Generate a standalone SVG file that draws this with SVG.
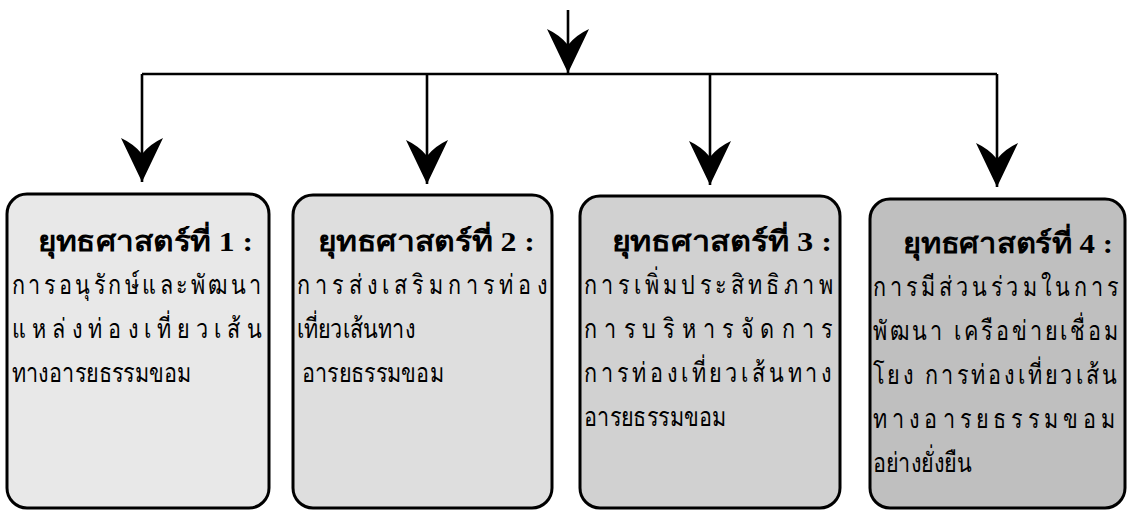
<svg xmlns="http://www.w3.org/2000/svg" width="1128" height="510" viewBox="0 0 1128 510">
<style>
.box{stroke:#000;stroke-width:3}
.conn{fill:none;stroke:#000;stroke-width:2.6}
.title{font-family:"Liberation Serif","DejaVu Serif",serif;font-size:28px;font-weight:bold;fill:#000}
.body{font-family:"Liberation Sans","DejaVu Sans",sans-serif;font-size:27px;fill:#000}
</style>
<defs>
<marker id="arr" markerUnits="userSpaceOnUse" markerWidth="48" markerHeight="48" viewBox="-46 -24 48 48" refX="0" refY="0" orient="auto">
<path d="M0,0 L-44,-21 Q-38,-8 -28,0 Q-38,8 -44,21 Z" fill="#000"/>
</marker>
</defs>
<rect width="1128" height="510" fill="#fff"/>
<g id="connectors">
<path class="conn" d="M568,10 V73" marker-end="url(#arr)"/>
<path class="conn" d="M142,74 H997"/>
<path class="conn" d="M142,74 V182" marker-end="url(#arr)"/>
<path class="conn" d="M427,74 V184" marker-end="url(#arr)"/>
<path class="conn" d="M710,74 V185" marker-end="url(#arr)"/>
<path class="conn" d="M997,74 V187" marker-end="url(#arr)"/>
</g>
<g id="node1">
<rect class="box" x="7" y="194" width="262" height="314" rx="20" fill="#e8e8e8"/>
<text class="title" x="38" y="251" textLength="215" lengthAdjust="spacingAndGlyphs">ยุทธศาสตร์ที่ 1 :</text>
<g transform="scale(0.8,1)">
<text class="body" x="15" y="294" textLength="312" lengthAdjust="spacing">การอนุรักษ์และพัฒนา</text>
<text class="body" x="15" y="338" textLength="312" lengthAdjust="spacing">แหล่งท่องเที่ยวเส้น</text>
<text class="body" x="15" y="382">ทางอารยธรรมขอม</text>
</g>
</g>
<g id="node2">
<rect class="box" x="293" y="195" width="259" height="313" rx="20" fill="#dedede"/>
<text class="title" x="318" y="251" textLength="217" lengthAdjust="spacingAndGlyphs">ยุทธศาสตร์ที่ 2 :</text>
<g transform="scale(0.8,1)">
<text class="body" x="371" y="294" textLength="313" lengthAdjust="spacing">การส่งเสริมการท่อง</text>
<text class="body" x="371" y="338">เที่ยวเส้นทาง</text>
<text class="body" x="377" y="382">อารยธรรมขอม</text>
</g>
</g>
<g id="node3">
<rect class="box" x="580" y="196" width="260" height="312" rx="20" fill="#d1d1d1"/>
<text class="title" x="612" y="251" textLength="220" lengthAdjust="spacingAndGlyphs">ยุทธศาสตร์ที่ 3 :</text>
<g transform="scale(0.8,1)">
<text class="body" x="730" y="294" textLength="311" lengthAdjust="spacing">การเพิ่มประสิทธิภาพ</text>
<text class="body" x="730" y="338" textLength="311" lengthAdjust="spacing">การบริหารจัดการ</text>
<text class="body" x="730" y="382" textLength="310" lengthAdjust="spacing">การท่องเที่ยวเส้นทาง</text>
<text class="body" x="730" y="426">อารยธรรมขอม</text>
</g>
</g>
<g id="node4">
<rect class="box" x="870" y="199" width="255" height="309" rx="20" fill="#bfbfbf"/>
<text class="title" x="903" y="253" textLength="210" lengthAdjust="spacingAndGlyphs">ยุทธศาสตร์ที่ 4 :</text>
<g transform="scale(0.8,1)">
<text class="body" x="1091" y="296" textLength="307" lengthAdjust="spacing">การมีส่วนร่วมในการ</text>
<text class="body" x="1091" y="340" textLength="307" lengthAdjust="spacing">พัฒนา เครือข่ายเชื่อม</text>
<text class="body" x="1091" y="384" textLength="305" lengthAdjust="spacing">โยง การท่องเที่ยวเส้น</text>
<text class="body" x="1091" y="428" textLength="303" lengthAdjust="spacing">ทางอารยธรรมขอม</text>
<text class="body" x="1091" y="472">อย่างยั่งยืน</text>
</g>
</g>
</svg>
